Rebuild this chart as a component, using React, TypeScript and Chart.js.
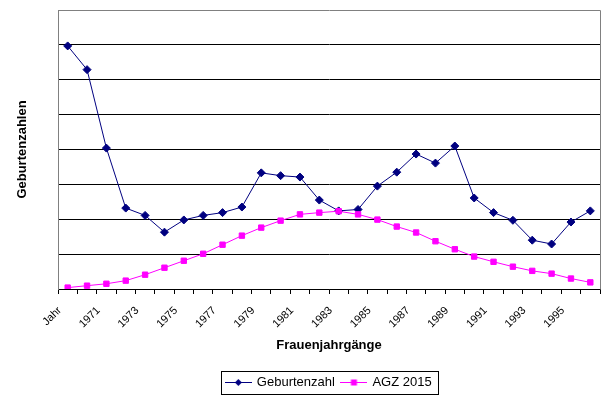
import React, { useEffect, useRef } from "react";
import { Chart, registerables } from "chart.js";

Chart.register(...registerables);

const categories = [
  "Jahr", "1970", "1971", "1972", "1973", "1974", "1975", "1976", "1977", "1978",
  "1979", "1980", "1981", "1982", "1983", "1984", "1985", "1986", "1987", "1988",
  "1989", "1990", "1991", "1992", "1993", "1994", "1995", "1996",
];

const geburtenzahl = [
  6.97, 6.29, 4.04, 2.32, 2.11, 1.63, 1.98, 2.11, 2.19, 2.35, 3.33, 3.25, 3.21, 2.55,
  2.24, 2.28, 2.95, 3.35, 3.87, 3.61, 4.10, 2.61, 2.19, 1.97, 1.40, 1.29, 1.92, 2.24,
];

const agz2015 = [
  0.04, 0.095, 0.15, 0.24, 0.41, 0.61, 0.81, 1.01, 1.27, 1.53, 1.76, 1.96, 2.14, 2.19,
  2.23, 2.14, 1.99, 1.79, 1.62, 1.37, 1.14, 0.93, 0.78, 0.64, 0.52, 0.44, 0.30, 0.19,
];

const seriesNames = ["Geburtenzahl", "AGZ 2015"];
const yMax = 8;

const BLUE = "#000080";
const PINK = "#FF00FF";
const FONT = "'Liberation Sans', Arial, sans-serif";

function makeSymbol(color: string, kind: "diamond" | "square"): HTMLCanvasElement {
  const c = document.createElement("canvas");
  c.width = 27;
  c.height = 9;
  const ctx = c.getContext("2d")!;
  ctx.strokeStyle = color;
  ctx.lineWidth = 1;
  ctx.beginPath();
  ctx.moveTo(0, 4.5);
  ctx.lineTo(27, 4.5);
  ctx.stroke();
  ctx.fillStyle = color;
  if (kind === "diamond") {
    ctx.beginPath();
    ctx.moveTo(13.5, 1);
    ctx.lineTo(17, 4.5);
    ctx.lineTo(13.5, 8);
    ctx.lineTo(10, 4.5);
    ctx.closePath();
    ctx.fill();
  } else {
    ctx.fillRect(10.5, 1.5, 6, 6);
  }
  return c;
}

const frame = {
  id: "frame",
  beforeDatasetsDraw(chart: any) {
    const { ctx, chartArea } = chart;
    const { left, right, top, bottom } = chartArea;
    ctx.save();
    ctx.strokeStyle = "#808080";
    ctx.lineWidth = 1;
    ctx.beginPath();
    ctx.moveTo(Math.round(left) + 0.5, Math.round(top) + 0.5);
    ctx.lineTo(Math.round(right) + 0.5, Math.round(top) + 0.5);
    ctx.lineTo(Math.round(right) + 0.5, Math.round(bottom) + 0.5);
    ctx.stroke();
    ctx.restore();
  },
  afterDraw(chart: any) {
    const legend = chart.legend;
    if (!legend || !legend.legendHitBoxes || !legend.legendHitBoxes.length) return;
    const hb = legend.legendHitBoxes;
    const first = hb[0];
    const last = hb[hb.length - 1];
    const cy = first.top + first.height / 2;
    const x0 = Math.round(first.left - 5);
    const x1 = Math.round(last.left + last.width + 6.5);
    const y0 = Math.round(cy - 12);
    const y1 = Math.round(cy + 11);
    const { ctx } = chart;
    ctx.save();
    ctx.strokeStyle = "#000000";
    ctx.lineWidth = 1;
    ctx.strokeRect(x0 + 0.5, y0 + 0.5, x1 - x0, y1 - y0);
    ctx.restore();
  },
};

export default function App() {
  const ref = useRef<HTMLCanvasElement | null>(null);

  useEffect(() => {
    if (!ref.current) return;
    Chart.defaults.font.family = FONT;
    Chart.defaults.color = "#000000";
    const symBlue = makeSymbol(BLUE, "diamond");
    const symPink = makeSymbol(PINK, "square");

    const chart = new Chart(ref.current, {
      type: "line",
      data: {
        labels: categories,
        datasets: [
          {
            label: seriesNames[0],
            data: geburtenzahl,
            borderColor: BLUE,
            backgroundColor: BLUE,
            borderWidth: 1,
            pointStyle: "rectRot",
            pointRadius: 4,
            pointBorderWidth: 1,
            pointBackgroundColor: BLUE,
            pointBorderColor: BLUE,
            tension: 0,
            order: 1,
          },
          {
            label: seriesNames[1],
            data: agz2015,
            borderColor: PINK,
            backgroundColor: PINK,
            borderWidth: 1,
            pointStyle: "rect",
            pointRadius: 3.8,
            pointBorderWidth: 1,
            pointBackgroundColor: PINK,
            pointBorderColor: PINK,
            tension: 0,
            order: 0,
          },
        ],
      },
      options: {
        responsive: false,
        animation: false,
        devicePixelRatio: 1,
        layout: { padding: { left: 11, right: 10, top: 10, bottom: 0 } },
        plugins: {
          tooltip: { enabled: false },
          legend: {
            position: "bottom",
            fullSize: false,
            labels: {
              usePointStyle: true,
              pointStyleWidth: 24,
              padding: 7,
              color: "#000000",
              font: { size: 13, family: FONT },
              generateLabels: () => [
                {
                  text: seriesNames[0],
                  pointStyle: symBlue,
                  fillStyle: BLUE,
                  strokeStyle: BLUE,
                  lineWidth: 0,
                  datasetIndex: 0,
                  hidden: false,
                },
                {
                  text: seriesNames[1],
                  pointStyle: symPink,
                  fillStyle: PINK,
                  strokeStyle: PINK,
                  lineWidth: 0,
                  datasetIndex: 1,
                  hidden: false,
                },
              ] as any,
            },
          },
        },
        scales: {
          x: {
            type: "category",
            offset: true,
            afterFit: (s: any) => {
              s.height = 80;
            },
            grid: {
              display: true,
              offset: true,
              drawOnChartArea: false,
              drawTicks: true,
              tickLength: 5,
              color: "#000000",
            },
            border: { display: true, color: "#000000", width: 1 },
            ticks: {
              autoSkip: false,
              maxRotation: 45,
              minRotation: 45,
              padding: 10,
              labelOffset: -8,
              color: "#000000",
              font: { size: 11, family: FONT },
              callback: (_v: any, i: number) => (i % 2 === 0 ? categories[i] : ""),
            },
            title: {
              display: true,
              text: "Frauenjahrgänge",
              color: "#000000",
              font: { size: 13, weight: "bold", family: FONT },
              padding: { top: 0, bottom: 16 },
            },
          },
          y: {
            min: 0,
            max: yMax,
            afterFit: (s: any) => {
              s.width = 47;
            },
            ticks: { display: false, stepSize: 1 },
            grid: {
              display: true,
              drawTicks: false,
              color: (c: any) => (c.tick && c.tick.value >= yMax ? "rgba(0,0,0,0)" : "#000000"),
              lineWidth: 1,
            },
            border: { display: true, color: "#808080", width: 1 },
            title: {
              display: true,
              text: "Geburtenzahlen",
              color: "#000000",
              font: { size: 13, weight: "bold", family: FONT },
              padding: { top: 4, bottom: 4 },
            },
          },
        },
      },
      plugins: [frame],
    });
    return () => chart.destroy();
  }, []);

  return (
    <div style={{ position: "absolute", left: 0, top: 0, width: 610, height: 399, background: "#ffffff" }}>
      <canvas ref={ref} width={610} height={399} />
    </div>
  );
}
